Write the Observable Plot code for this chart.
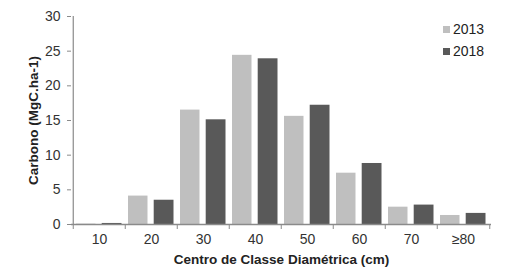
<!DOCTYPE html>
<html>
<head>
<meta charset="utf-8">
<script src="https://cdn.jsdelivr.net/npm/d3@7"></script>
<script src="https://cdn.jsdelivr.net/npm/@observablehq/plot@0.6"></script>
<style>
  html, body { margin: 0; padding: 0; background: #fff; }
  #wrap { position: relative; width: 517px; height: 271px; font-family: "Liberation Sans", Arial, sans-serif; }
  #legend { position: absolute; left: 443px; top: 18px; font-size: 14px; color: #222; line-height: 22px; }
  #legend .sw { display: inline-block; width: 7px; height: 7px; margin-right: 3px; vertical-align: 1px; }
</style>
</head>
<body>
<div id="wrap">
  <div id="chart"></div>
  <div id="legend"></div>
</div>
<script>
const categories = ["10", "20", "30", "40", "50", "60", "70", "≥80"];
const years = ["2013", "2018"];
const values2013 = [0.05, 4.1, 16.5, 24.4, 15.6, 7.4, 2.5, 1.3];
const values2018 = [0.15, 3.5, 15.1, 23.9, 17.2, 8.8, 2.8, 1.6];
const yTicks = [0, 5, 10, 15, 20, 25, 30];
const colors = ["#bfbfbf", "#595959"];

const d2013 = categories.map((c, i) => ({cat: c, v: values2013[i]}));
const d2018 = categories.map((c, i) => ({cat: c, v: values2018[i]}));

const W = 517, H = 271, mL = 71, mR = 26, mT = 16, mB = 47;
const step = (W - mL - mR) / categories.length;
const axisColor = "#8a8a8a";

const chart = Plot.plot({
  width: W, height: H,
  marginLeft: mL, marginRight: mR, marginTop: mT, marginBottom: mB,
  style: {fontFamily: "Liberation Sans, Arial, sans-serif", background: "#fff", overflow: "visible"},
  x: {domain: categories, padding: 0, axis: null},
  y: {domain: [0, 30], axis: null},
  marks: [
    Plot.barY(d2013, {x: "cat", y: "v", fill: colors[0], insetLeft: 3, insetRight: step - 23}),
    Plot.barY(d2018, {x: "cat", y: "v", fill: colors[1], insetLeft: 28.7, insetRight: 3.5}),
    Plot.ruleY([0], {stroke: axisColor, strokeWidth: 1.5}),
    Plot.ruleX([categories[0]], {dx: -step / 2, y1: 0, y2: 30, stroke: axisColor, strokeWidth: 1.2}),
    Plot.axisY({ticks: yTicks, tickSize: 4, tickPadding: 7, fontSize: 14, color: "#333", stroke: axisColor, label: null}),
    Plot.axisX(categories, {tickSize: 5, tickFormat: () => "", stroke: axisColor, dx: -step / 2, label: null}),
    Plot.axisX([categories[categories.length - 1]], {tickSize: 5, tickFormat: () => "", stroke: axisColor, dx: step / 2, label: null}),
    Plot.axisX({tickSize: 0, tickPadding: 10, fontSize: 14, fill: "#333", label: null}),
    Plot.text(["Centro de Classe Diamétrica (cm)"], {frameAnchor: "bottom", dy: 39, fontSize: 13.5, fontWeight: "bold", fill: "#222"}),
    Plot.text(["Carbono (MgC.ha-1)"], {frameAnchor: "left", textAnchor: "middle", dx: -38, rotate: -90, fontSize: 13.5, fontWeight: "bold", fill: "#222"})
  ]
});
document.getElementById("chart").appendChild(chart);

const legend = document.getElementById("legend");
years.forEach((y, i) => {
  const row = document.createElement("div");
  row.innerHTML = `<span class="sw" style="background:${colors[i]}"></span>${y}`;
  legend.appendChild(row);
});
</script>
</body>
</html>
